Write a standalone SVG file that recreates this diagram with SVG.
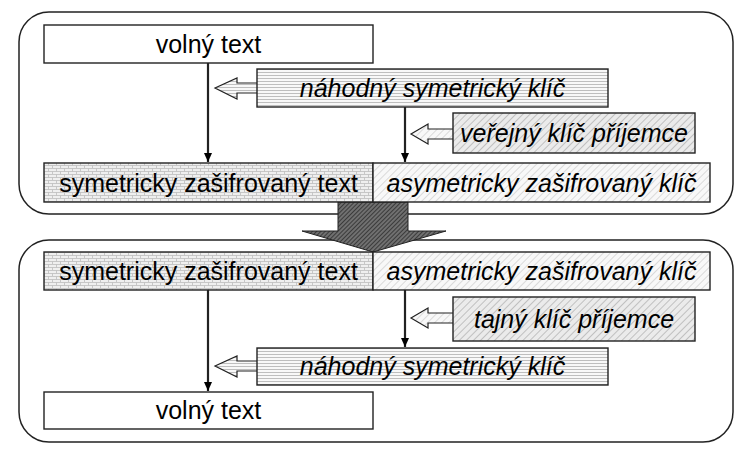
<svg xmlns="http://www.w3.org/2000/svg" width="750" height="453" viewBox="0 0 750 453">
<defs>
<pattern id="brick" patternUnits="userSpaceOnUse" width="8" height="6">
<rect width="8" height="6" fill="#efefef"/>
<path d="M0 0.5H8M0 3.5H8M0.5 0.5V3.5M4.5 3.5V6" stroke="#bdbdbd" stroke-width="0.8" fill="none"/>
</pattern>
<pattern id="hatchLight" patternUnits="userSpaceOnUse" width="5" height="5" patternTransform="rotate(45)">
<rect width="5" height="5" fill="#f8f8f8"/>
<path d="M0 0V5" stroke="#cacaca" stroke-width="1.3"/>
</pattern>
<pattern id="hatchMid" patternUnits="userSpaceOnUse" width="5" height="5" patternTransform="rotate(45)">
<rect width="5" height="5" fill="#ebebeb"/>
<path d="M0 0V5" stroke="#b2b2b2" stroke-width="1.5"/>
</pattern>
<pattern id="horiz" patternUnits="userSpaceOnUse" width="6" height="3">
<rect width="6" height="3" fill="#f8f8f8"/>
<path d="M0 0.5H6" stroke="#b8b8b8" stroke-width="0.9"/>
</pattern>
<pattern id="hatchDark" patternUnits="userSpaceOnUse" width="3" height="3" patternTransform="rotate(45)">
<rect width="3" height="3" fill="#707070"/>
<path d="M0 0V3" stroke="#1e1e1e" stroke-width="1.3"/>
</pattern>
<marker id="ah" markerWidth="10" markerHeight="10" refX="9" refY="4" orient="auto" markerUnits="userSpaceOnUse">
<path d="M0 0L9 4L0 8Z" fill="#000"/>
</marker>
</defs>
<style>
.frame{fill:#fff;stroke:#222;stroke-width:1.5}
.box{stroke:#222;stroke-width:1.4}
.blk{stroke:#222;stroke-width:1.2}
.t{font-family:"Liberation Sans",Arial,sans-serif;font-size:25px;fill:#000;text-anchor:middle}
.i{font-style:italic}
.conn{stroke:#222;stroke-width:2.2;fill:none}
</style>
<rect width="750" height="453" fill="#fff"/>
<g id="frame-top"><rect class="frame" x="19" y="12" width="714" height="202" rx="30" ry="30"/></g>
<g id="frame-bottom"><rect class="frame" x="19" y="240" width="714" height="202" rx="30" ry="30"/></g>
<g id="big-arrow"><polygon points="338,202 408,202 408,231 446,231 373,252 302,231 338,231" fill="url(#hatchDark)" stroke="#222" stroke-width="1"/></g>

<g id="connectors">
<line class="conn" x1="208" y1="63" x2="208" y2="162" marker-end="url(#ah)"/>
<line class="conn" x1="405" y1="107" x2="405" y2="162" marker-end="url(#ah)"/>
<line class="conn" x1="208" y1="290" x2="208" y2="391" marker-end="url(#ah)"/>
<line class="conn" x1="405" y1="290" x2="405" y2="347" marker-end="url(#ah)"/>
</g>

<g id="n-volny-top"><rect class="box" x="44" y="25" width="329" height="38" fill="#fff"/><text class="t" x="208.5" y="53">volný text</text></g>
<g id="n-nahodny-top">
<polygon class="blk" points="258,83 237,83 237,78 215,88 237,99 237,93 258,93" fill="url(#horiz)"/>
<rect class="box" x="257" y="69" width="351" height="38" fill="url(#horiz)"/>
<text class="t i" x="432.5" y="97">náhodný symetrický klíč</text></g>
<g id="n-verejny">
<polygon class="blk" points="454,129 428,129 428,124 411,134 428,144 428,139 454,139" fill="url(#hatchLight)"/>
<rect class="box" x="453" y="113" width="242" height="40" fill="url(#hatchMid)"/>
<text class="t i" x="574" y="142">veřejný klíč příjemce</text></g>
<g id="n-sym-top"><rect class="box" x="44" y="163" width="329" height="39" fill="url(#brick)"/><text class="t" x="208.5" y="192">symetricky zašifrovaný text</text></g>
<g id="n-asym-top"><rect class="box" x="373" y="163" width="337" height="39" fill="url(#hatchLight)"/><text class="t i" x="541.5" y="192">asymetricky zašifrovaný klíč</text></g>

<g id="n-sym-bottom"><rect class="box" x="44" y="252" width="329" height="38" fill="url(#brick)"/><text class="t" x="208.5" y="280">symetricky zašifrovaný text</text></g>
<g id="n-asym-bottom"><rect class="box" x="373" y="252" width="337" height="38" fill="url(#hatchLight)"/><text class="t i" x="541.5" y="280">asymetricky zašifrovaný klíč</text></g>
<g id="n-tajny">
<polygon class="blk" points="454,313 428,313 428,308 411,318 428,328 428,323 454,323" fill="url(#hatchLight)"/>
<rect class="box" x="453" y="297" width="242" height="44" fill="url(#hatchMid)"/>
<text class="t i" x="574" y="328">tajný klíč příjemce</text></g>
<g id="n-nahodny-bottom">
<polygon class="blk" points="258,361 237,361 237,356 215,366 237,377 237,371 258,371" fill="url(#horiz)"/>
<rect class="box" x="257" y="348" width="351" height="37" fill="url(#horiz)"/>
<text class="t i" x="432.5" y="375">náhodný symetrický klíč</text></g>
<g id="n-volny-bottom"><rect class="box" x="44" y="392" width="329" height="37" fill="#fff"/><text class="t" x="208.5" y="419">volný text</text></g>
</svg>
